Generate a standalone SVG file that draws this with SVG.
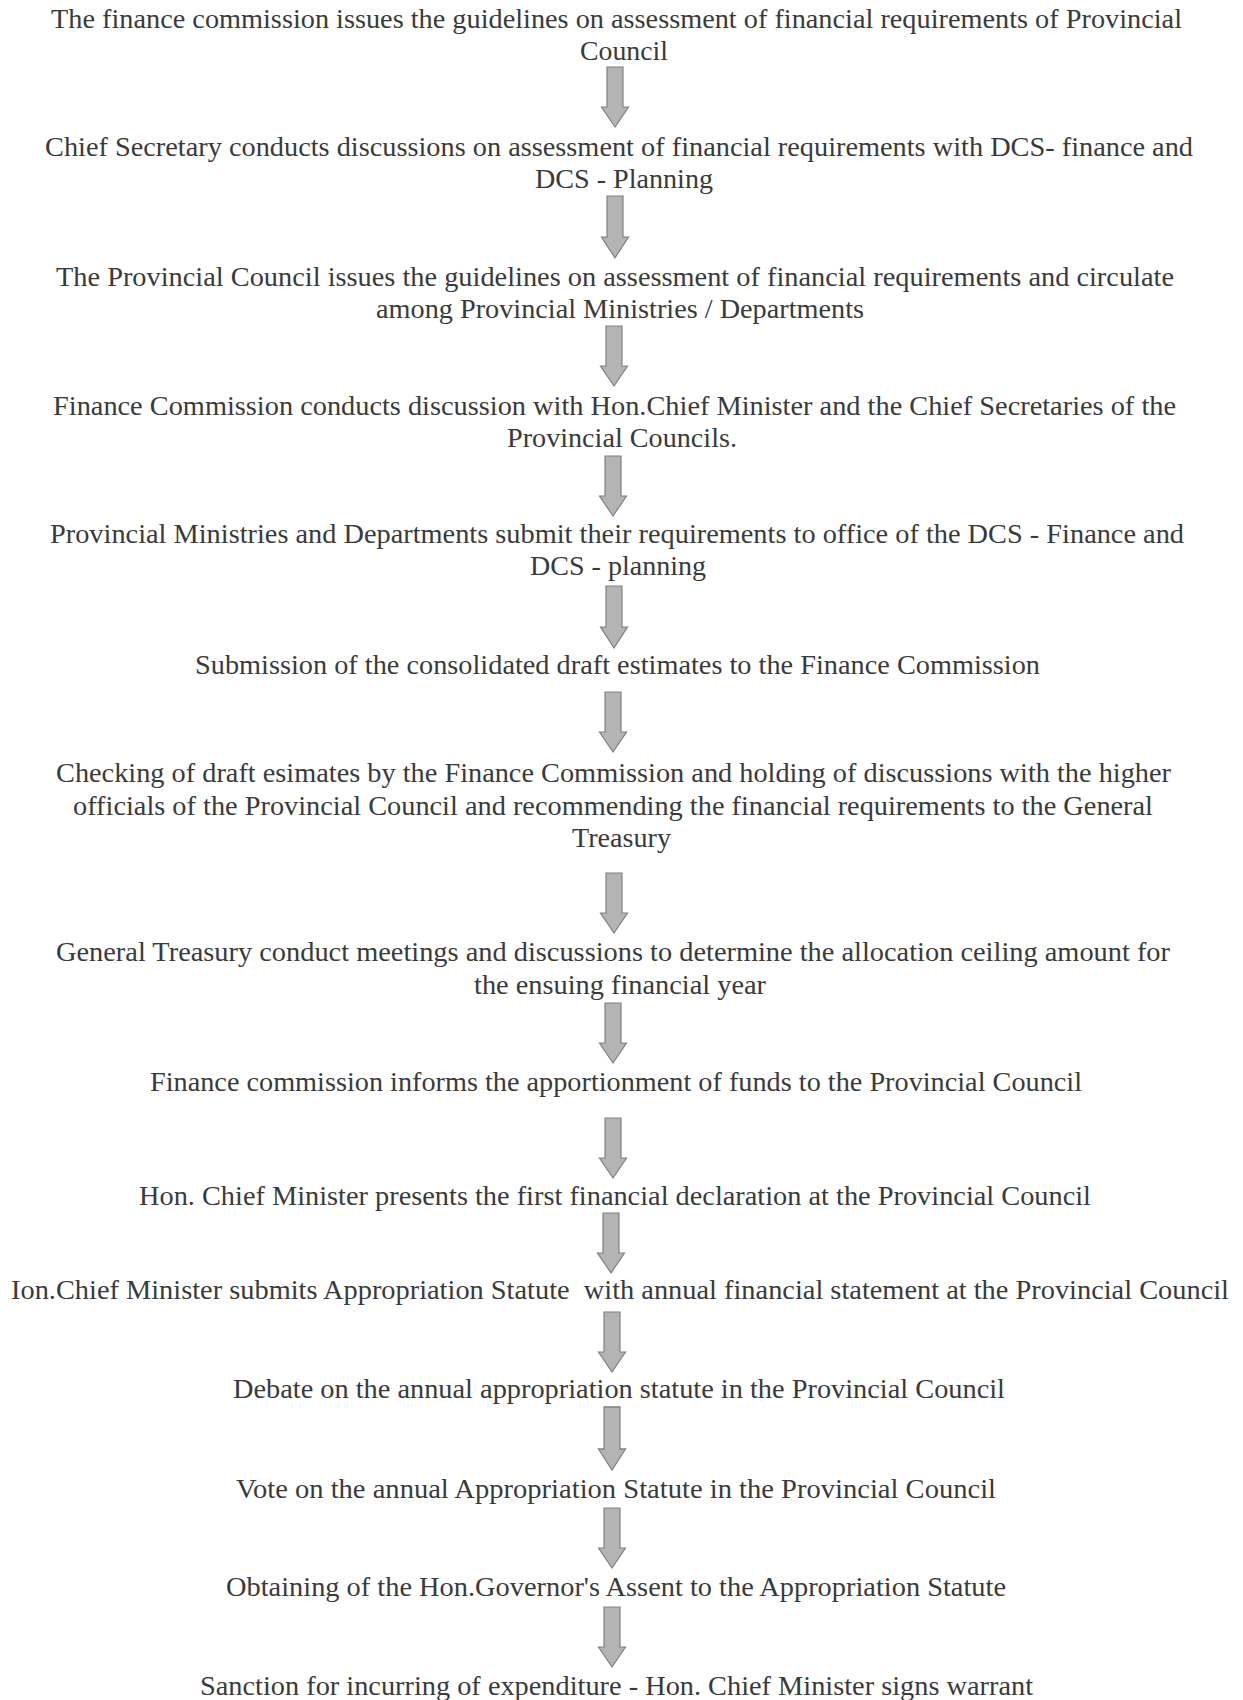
<svg xmlns="http://www.w3.org/2000/svg" width="1243" height="1700" viewBox="0 0 1243 1700">
<defs>
<style>
.t{font-family:"Liberation Serif","Times New Roman",serif;font-size:27px;fill:#3a3a3a;}
.arr{fill:#b4b4b4;stroke:#808080;stroke-width:1.2;}
</style>
<path id="ar" d="M-8,0 H8 V40 H13.5 L0,60 L-13.5,40 H-8 Z"/>
</defs>
<rect width="1243" height="1700" fill="#ffffff"/>
<g id="connectors" class="arr">
<use href="#ar" transform="translate(615,67)"/>
<use href="#ar" transform="translate(615,196) scale(1,1.03)"/>
<use href="#ar" transform="translate(614,326)"/>
<use href="#ar" transform="translate(613,456)"/>
<use href="#ar" transform="translate(614,586) scale(1,1.03)"/>
<use href="#ar" transform="translate(613,692)"/>
<use href="#ar" transform="translate(614,873)"/>
<use href="#ar" transform="translate(613,1003)"/>
<use href="#ar" transform="translate(613,1118)"/>
<use href="#ar" transform="translate(611,1213)"/>
<use href="#ar" transform="translate(612,1312)"/>
<use href="#ar" transform="translate(612,1407) scale(1,1.05)"/>
<use href="#ar" transform="translate(612,1508)"/>
<use href="#ar" transform="translate(612,1607)"/>
</g>
<g id="n1"><text class="t" x="51" y="28" textLength="1131" lengthAdjust="spacingAndGlyphs">The finance commission issues the guidelines on assessment of financial requirements of Provincial</text><text class="t" x="580" y="60" textLength="88" lengthAdjust="spacingAndGlyphs">Council</text></g>
<g id="n2"><text class="t" x="45" y="156" textLength="1148" lengthAdjust="spacingAndGlyphs">Chief Secretary conducts discussions on assessment of financial requirements with DCS- finance and</text><text class="t" x="535" y="188" textLength="178" lengthAdjust="spacingAndGlyphs">DCS - Planning</text></g>
<g id="n3"><text class="t" x="56" y="286" textLength="1118" lengthAdjust="spacingAndGlyphs">The Provincial Council issues the guidelines on assessment of financial requirements and circulate</text><text class="t" x="376" y="318" textLength="488" lengthAdjust="spacingAndGlyphs">among Provincial Ministries / Departments</text></g>
<g id="n4"><text class="t" x="53" y="415" textLength="1123" lengthAdjust="spacingAndGlyphs">Finance Commission conducts discussion with Hon.Chief Minister and the Chief Secretaries of the</text><text class="t" x="507" y="447" textLength="230" lengthAdjust="spacingAndGlyphs">Provincial Councils.</text></g>
<g id="n5"><text class="t" x="50" y="543" textLength="1134" lengthAdjust="spacingAndGlyphs">Provincial Ministries and Departments submit their requirements to office of the DCS - Finance and</text><text class="t" x="530" y="575" textLength="176" lengthAdjust="spacingAndGlyphs">DCS - planning</text></g>
<g id="n6"><text class="t" x="195" y="674" textLength="845" lengthAdjust="spacingAndGlyphs">Submission of the consolidated draft estimates to the Finance Commission</text></g>
<g id="n7"><text class="t" x="56" y="782" textLength="1115" lengthAdjust="spacingAndGlyphs">Checking of draft esimates by the Finance Commission and holding of discussions with the higher</text><text class="t" x="73" y="815" textLength="1080" lengthAdjust="spacingAndGlyphs">officials of the Provincial Council and recommending the financial requirements to the General</text><text class="t" x="572" y="847" textLength="99" lengthAdjust="spacingAndGlyphs">Treasury</text></g>
<g id="n8"><text class="t" x="56" y="961" textLength="1114" lengthAdjust="spacingAndGlyphs">General Treasury conduct meetings and discussions to determine the allocation ceiling amount for</text><text class="t" x="474" y="994" textLength="292" lengthAdjust="spacingAndGlyphs">the ensuing financial year</text></g>
<g id="n9"><text class="t" x="150" y="1091" textLength="932" lengthAdjust="spacingAndGlyphs">Finance commission informs the apportionment of funds to the Provincial Council</text></g>
<g id="n10"><text class="t" x="139" y="1205" textLength="952" lengthAdjust="spacingAndGlyphs">Hon. Chief Minister presents the first financial declaration at the Provincial Council</text></g>
<g id="n11"><text class="t" x="11" y="1299" textLength="1218" lengthAdjust="spacingAndGlyphs" xml:space="preserve">Ion.Chief Minister submits Appropriation Statute  with annual financial statement at the Provincial Council</text></g>
<g id="n12"><text class="t" x="233" y="1398" textLength="772" lengthAdjust="spacingAndGlyphs">Debate on the annual appropriation statute in the Provincial Council</text></g>
<g id="n13"><text class="t" x="236" y="1498" textLength="760" lengthAdjust="spacingAndGlyphs">Vote on the annual Appropriation Statute in the Provincial Council</text></g>
<g id="n14"><text class="t" x="226" y="1596" textLength="780" lengthAdjust="spacingAndGlyphs">Obtaining of the Hon.Governor's Assent to the Appropriation Statute</text></g>
<g id="n15"><text class="t" x="200" y="1695" textLength="833" lengthAdjust="spacingAndGlyphs">Sanction for incurring of expenditure - Hon. Chief Minister signs warrant</text></g>
</svg>
